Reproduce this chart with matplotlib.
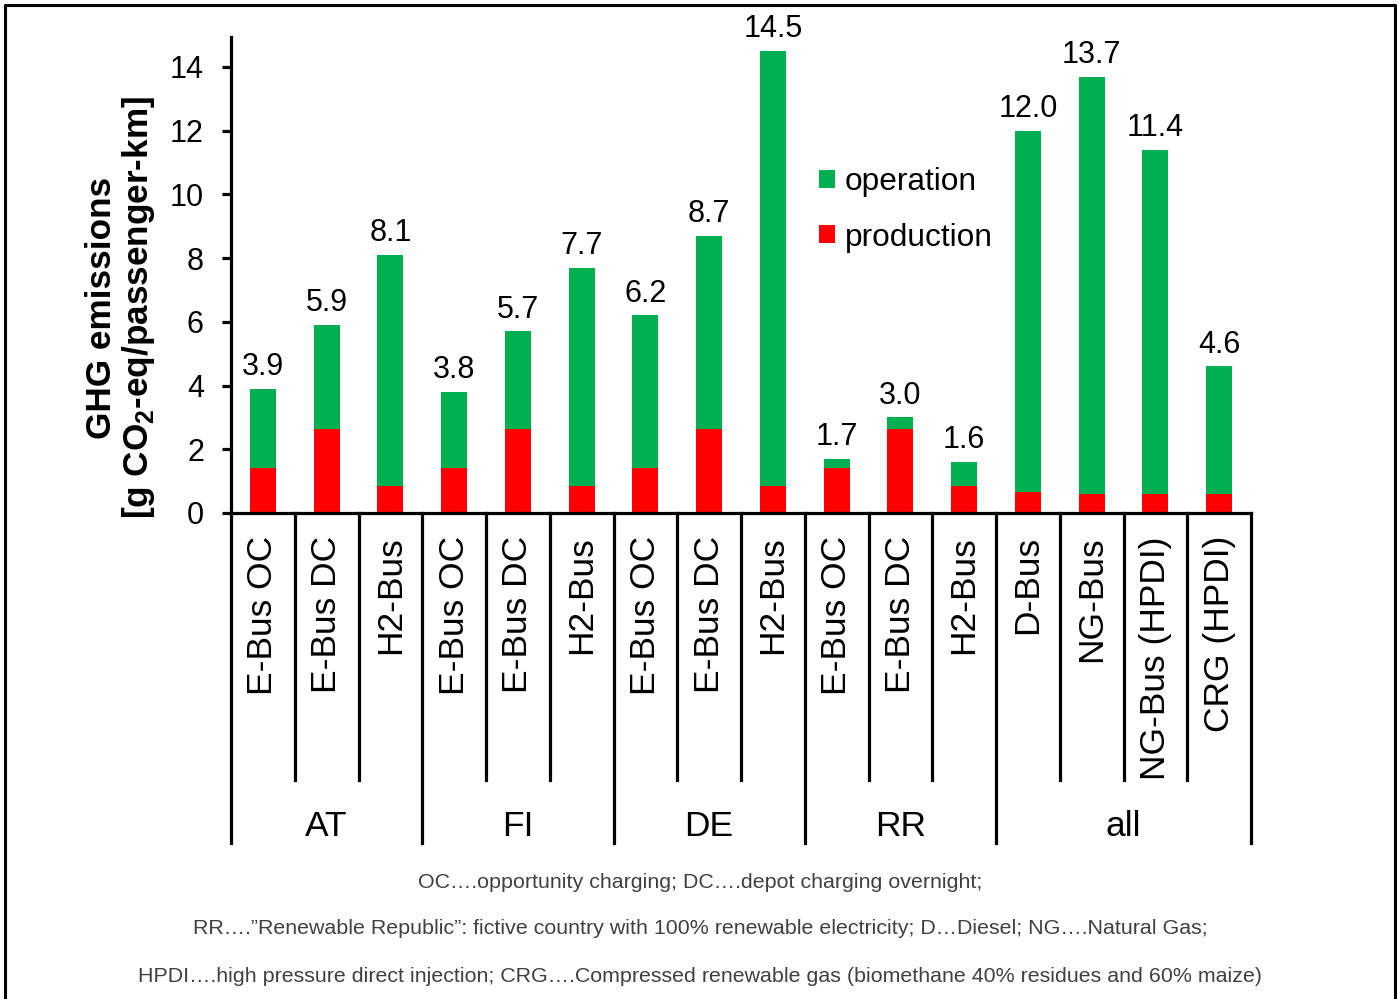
import numpy as np
import matplotlib
matplotlib.use("Agg")
import matplotlib.pyplot as plt
from matplotlib.patches import Patch
from matplotlib.lines import Line2D
import matplotlib.transforms as mtransforms

plt.rcParams["font.family"] = ["Liberation Sans", "DejaVu Sans"]
plt.rcParams["mathtext.fontset"] = "custom"
plt.rcParams["mathtext.rm"] = "Liberation Sans"
plt.rcParams["mathtext.bf"] = "Liberation Sans:bold"

# --- data -------------------------------------------------------------
categories = ["E-Bus OC", "E-Bus DC", "H2-Bus",
              "E-Bus OC", "E-Bus DC", "H2-Bus",
              "E-Bus OC", "E-Bus DC", "H2-Bus",
              "E-Bus OC", "E-Bus DC", "H2-Bus",
              "D-Bus", "NG-Bus", "NG-Bus (HPDI)", "CRG (HPDI)"]
groups = ["AT", "FI", "DE", "RR", "all"]
group_sizes = [3, 3, 3, 3, 4]

production = [1.40, 2.65, 0.85,
              1.40, 2.65, 0.85,
              1.40, 2.65, 0.85,
              1.40, 2.65, 0.85,
              0.65, 0.60, 0.60, 0.60]
operation = [2.50, 3.25, 7.25,
             2.40, 3.05, 6.85,
             4.80, 6.05, 13.65,
             0.30, 0.35, 0.75,
             11.35, 13.10, 10.80, 4.00]

series_labels = ["operation", "production"]
yticks = [0, 2, 4, 6, 8, 10, 12, 14]

footnotes = [
    "OC\u2026.opportunity charging; DC\u2026.depot charging overnight;",
    "RR\u2026.\u201dRenewable Republic\u201d: fictive country with 100% renewable electricity; D\u2026Diesel; NG\u2026.Natural Gas;",
    "HPDI\u2026.high pressure direct injection; CRG\u2026.Compressed renewable gas (biomethane 40% residues and 60% maize)",
]

GREEN = "#00B050"
RED = "#FF0000"

# --- figure -----------------------------------------------------------
W, H = 1399, 999
fig = plt.figure(figsize=(W / 100, H / 100), dpi=100)

ax_left, ax_right = 231, 1251
y0_px, ytop_px = 513, 37
ax = fig.add_axes([ax_left / W, (H - y0_px) / H,
                   (ax_right - ax_left) / W, (y0_px - ytop_px) / H])

n = len(categories)
x = np.arange(n)
prod = np.array(production)
oper = np.array(operation)
total = prod + oper

bw = 0.41
ax.bar(x, prod, width=bw, color=RED, edgecolor="none", zorder=2)
ax.bar(x, oper, width=bw, bottom=prod, color=GREEN, edgecolor="none", zorder=2)

for xi, t in zip(x, total):
    ax.annotate(f"{t:.1f}", (xi, t), xytext=(0, 10), textcoords="offset points",
                ha="center", va="baseline", fontsize=22)

ax.set_xlim(-0.5, n - 0.5)
ax.set_ylim(0, (y0_px - ytop_px) / ((y0_px - 67) / 14))
ax.set_yticks(yticks)
ax.set_yticklabels([str(v) for v in yticks], fontsize=22)
ax.set_xticks([])

for s in ["top", "right"]:
    ax.spines[s].set_visible(False)
for s in ["left", "bottom"]:
    ax.spines[s].set_linewidth(2.3)
ax.tick_params(axis="y", direction="out", length=6.5, width=2.3, pad=13)

# category labels and separators below the axis
trans = mtransforms.blended_transform_factory(ax.transData, ax.transAxes)
axh = y0_px - ytop_px
y_lab = -(536 - y0_px) / axh
y_short = -(780 - y0_px) / axh
y_long = -(843 - y0_px) / axh
y_group = -(826 - y0_px) / axh

for xi, lab in zip(x, categories):
    ax.text(xi, y_lab, lab, transform=trans, rotation=90,
            ha="center", va="top", fontsize=25.5)

bounds = np.concatenate([[0], np.cumsum(group_sizes)])
for b in range(n + 1):
    yb = y_long if b in bounds else y_short
    ax.add_line(Line2D([b - 0.5, b - 0.5], [0, yb], transform=trans,
                       color="black", lw=2.3, clip_on=False))

for g, lo, hi in zip(groups, bounds[:-1], bounds[1:]):
    ax.text((lo + hi - 1) / 2, y_group, g, transform=trans,
            ha="center", va="center", fontsize=25.5)

# y label
fig.text(121 / W, 1 - 308 / H,
         "GHG emissions\n[g CO$_{\\mathbf{2}}$-eq/passenger-km]",
         rotation=90, ha="center", va="center", fontsize=25.3,
         fontweight="bold", linespacing=1.05, multialignment="center")

# legend
handles = [Patch(facecolor=GREEN, edgecolor="none"),
           Patch(facecolor=RED, edgecolor="none")]
fig.legend(handles, series_labels, loc="upper left",
           bbox_to_anchor=(797 / W, 1 - 145 / H), frameon=False,
           fontsize=22.8, handlelength=0.5, handleheight=0.5,
           handletextpad=0.3, labelspacing=0.8, borderpad=0.2)

# footnotes
for yy, txt in zip([882, 929, 977], footnotes):
    fig.text(700 / W, 1 - yy / H, txt, ha="center", va="center",
             fontsize=15.4, color="#404040")

# outer frame (left, top, right)
fig.add_artist(Line2D([5 / W, 5 / W, 1395 / W, 1395 / W],
                      [0, 1 - 5 / H, 1 - 5 / H, 0],
                      transform=fig.transFigure, color="black", lw=2.2))

fig.savefig("out.png", dpi=100)
